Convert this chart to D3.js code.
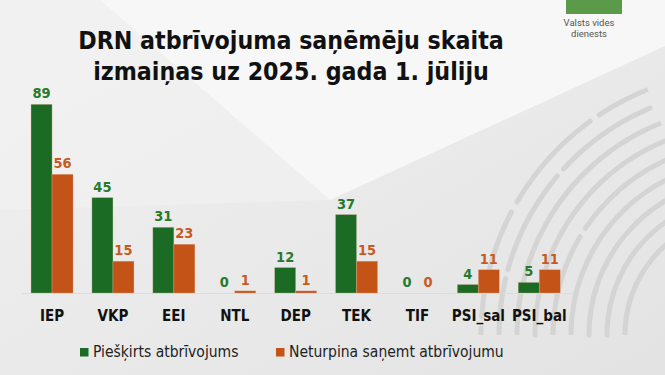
<!DOCTYPE html>
<html>
<head>
<meta charset="utf-8">
<script src="https://cdn.jsdelivr.net/npm/d3@7"></script>
<style>
  body { margin: 0; background: #ebebeb; }
  svg { display: block; font-family: "DejaVu Sans Condensed", Roboto, sans-serif; }
</style>
</head>
<body>
<svg width="665" height="375"></svg>
<script>
const categories = ['IEP', 'VKP', 'EEI', 'NTL', 'DEP', 'TEK', 'TIF', 'PSI_sal', 'PSI_bal'];
const granted = [89, 45, 31, 0, 12, 37, 0, 4, 5];
const discontinued = [56, 15, 23, 1, 1, 15, 0, 11, 11];
const seriesNames = ['Piešķirts atbrīvojums', 'Neturpina saņemt atbrīvojumu'];
const titleLines = ['DRN atbrīvojuma saņēmēju skaita', 'izmaiņas uz 2025. gada 1. jūliju'];

const svg = d3.select('svg');
const width = +svg.attr('width');
const height = +svg.attr('height');

const barColors = ['#1c6b24', '#c45317'];
const labelColors = ['#267a2d', '#c95a1f'];

// background
const defs = svg.append('defs');
const grad = defs.append('linearGradient').attr('id', 'bg')
  .attr('x1', 0).attr('y1', 0).attr('x2', 1).attr('y2', 1);
grad.append('stop').attr('offset', 0).attr('stop-color', '#f1f1f1');
grad.append('stop').attr('offset', 1).attr('stop-color', '#e3e3e3');
svg.append('rect').attr('width', width).attr('height', height).attr('fill', 'url(#bg)');
svg.append('path')
  .attr('d', 'M100,0 L665,0 L665,46 L330,200 Z')
  .attr('fill', '#f7f7f7');
svg.append('path')
  .attr('d', 'M0,0 L100,0 L330,200 L0,210 Z')
  .attr('fill', '#f2f2f2').attr('opacity', 0.6);

// decorative arcs on the right
const arcG = svg.append('g').attr('transform', 'translate(745,335)');
const dashes = ['70 14 25 12', '40 12 90 14', '100 14 30 12', '30 12 60 14'];
d3.range(9).forEach(i => {
  const r = 120 + i * 18;
  arcG.append('path')
    .attr('d', d3.arc()({ innerRadius: r, outerRadius: r, startAngle: -Math.PI * 0.5, endAngle: -Math.PI * 0.12 }))
    .attr('fill', 'none')
    .attr('stroke', '#d4d4d4')
    .attr('stroke-width', 5)
    .attr('stroke-linecap', 'round')
    .attr('stroke-dasharray', dashes[i % 4])
    .attr('stroke-dashoffset', i * 23);
});

// logo block
svg.append('rect').attr('x', 566).attr('y', 0).attr('width', 56).attr('height', 14).attr('fill', '#5a9a48');
svg.append('text').attr('x', 589).attr('y', 26).attr('text-anchor', 'middle')
  .attr('font-family', 'Roboto, sans-serif').attr('font-size', 9.5).attr('fill', '#555').text('Valsts vides');
svg.append('text').attr('x', 589).attr('y', 37).attr('text-anchor', 'middle')
  .attr('font-family', 'Roboto, sans-serif').attr('font-size', 9.5).attr('fill', '#555').text('dienests');

// title
svg.append('text')
  .attr('text-anchor', 'middle')
  .attr('font-size', 24.7).attr('font-weight', 'bold').attr('fill', '#111')
  .selectAll('tspan').data(titleLines).join('tspan')
    .attr('x', 291)
    .attr('y', (d, i) => 49 + i * 31)
    .text(d => d);

const data = categories.map((c, i) => ({ cat: c, values: [granted[i], discontinued[i]] }));

const x0 = d3.scaleBand().domain(categories).range([21.9, 569.4]).paddingInner(0.31).paddingOuter(0.15);
const x1 = d3.scaleBand().domain([0, 1]).range([0, x0.bandwidth()]);
const y = d3.scaleLinear().domain([0, 100]).range([293, 81]);

// baseline
svg.append('line').attr('x1', 22).attr('x2', 573).attr('y1', y(0) + 0.5).attr('y2', y(0) + 0.5)
  .attr('stroke', '#dcdcdc').attr('stroke-width', 1);

const groups = svg.append('g').selectAll('g').data(data).join('g')
  .attr('transform', d => `translate(${x0(d.cat)},0)`);

groups.selectAll('rect').data(d => d.values).join('rect')
  .attr('x', (d, i) => x1(i))
  .attr('y', d => y(d))
  .attr('width', x1.bandwidth())
  .attr('height', d => y(0) - y(d))
  .attr('fill', (d, i) => barColors[i])
  .attr('stroke', d => d > 0 ? '#e6b8a0' : 'none')
  .attr('stroke-opacity', 0.5)
  .attr('stroke-width', 0.6);

groups.selectAll('text').data(d => d.values).join('text')
  .attr('x', (d, i) => x1(i) + x1.bandwidth() / 2)
  .attr('y', d => y(d) - 6)
  .attr('text-anchor', 'middle')
  .attr('font-size', 14.5).attr('font-weight', 'bold')
  .attr('fill', (d, i) => labelColors[i])
  .text(d => d);

// x axis labels
const xAxis = d3.axisBottom(x0).tickSize(0).tickPadding(0);
const xAxisG = svg.append('g').attr('transform', `translate(0,${y(0)})`).call(xAxis);
xAxisG.select('.domain').remove();
xAxisG.selectAll('text')
  .attr('dy', null).attr('y', 28)
  .attr('font-family', '"DejaVu Sans Condensed", Roboto, sans-serif')
  .attr('font-size', 15).attr('font-weight', 'bold').attr('fill', '#111');

// legend
const legendX = [80, 276];
const legend = svg.append('g').selectAll('g').data(seriesNames).join('g')
  .attr('transform', (d, i) => `translate(${legendX[i]},348)`);
legend.append('rect').attr('width', 8.5).attr('height', 8.5).attr('fill', (d, i) => barColors[i]);
legend.append('text').attr('x', 13).attr('y', 9)
  .attr('font-size', 15.5).attr('fill', '#222').text(d => d);
</script>
</body>
</html>
